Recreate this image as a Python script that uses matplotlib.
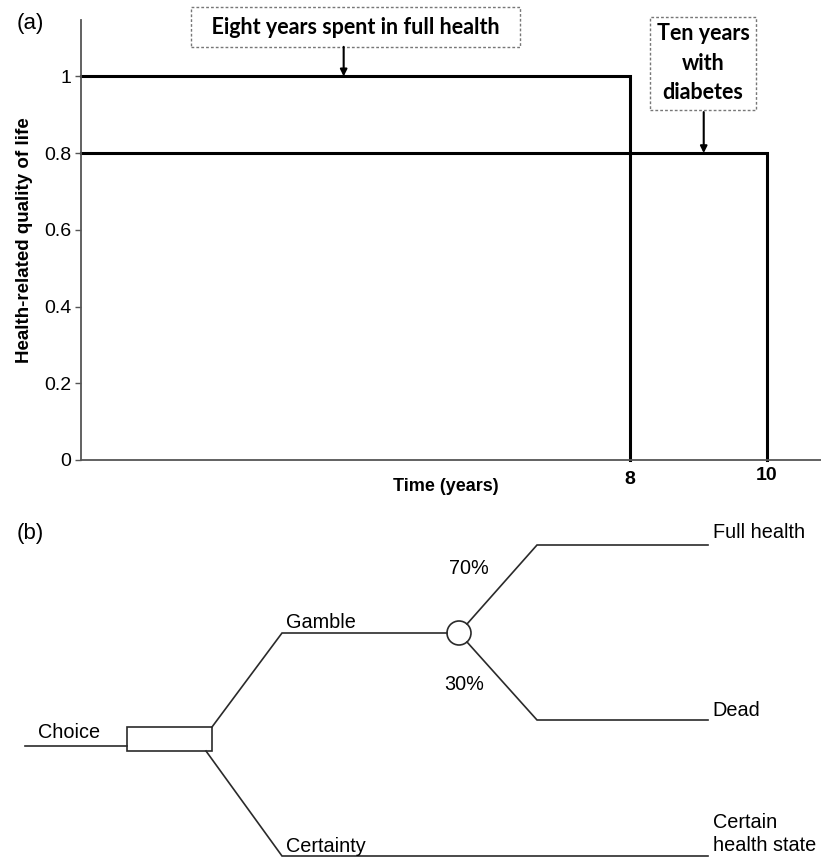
import matplotlib
matplotlib.use("Agg")
import matplotlib.pyplot as plt
from matplotlib.patches import Rectangle, Circle
from matplotlib.transforms import ScaledTranslation

plt.rcParams['font.family'] = ['Liberation Sans', 'DejaVu Sans']

# panel (a) data
years = [8, 10]
quality = [1.0, 0.8]
yticks = [0, 0.2, 0.4, 0.6, 0.8, 1.0]
ytick_labels = ['0', '0.2', '0.4', '0.6', '0.8', '1']
box_texts = ['  Eight years spent in full health  ', 'Ten years\nwith\ndiabetes']
arrow_x = [3.83, 9.08]

# panel (b) labels
choice_labels = ['Gamble', 'Certainty']
chance_probs = ['70%', '30%']
outcomes = ['Full health', 'Dead', 'Certain\nhealth state']

fig = plt.figure(figsize=(8.21, 8.59), dpi=100)

# ---- panel (a)
ax = fig.add_axes([81/821, 1 - 460/859, 740/821, 440/859])
for yr, q in zip(years, quality):
    ax.plot([0, yr, yr], [q, q, 0], color='black', lw=2.2, clip_on=False,
            solid_joinstyle='miter')
ax.set_xlim(0, 10.79)
ax.set_ylim(0, 1.147)
for s in ['top', 'right']:
    ax.spines[s].set_visible(False)
for s in ['left', 'bottom']:
    ax.spines[s].set_color('#555555')
    ax.spines[s].set_linewidth(1.3)

ax.set_yticks(yticks)
ax.set_yticklabels(ytick_labels, fontsize=14)
ax.tick_params(axis='y', direction='out', length=4, width=1, color='#555555', pad=3)
ax.set_xticks(years)
ax.set_xticklabels([str(y) for y in years], fontsize=14, fontweight='bold')
ax.tick_params(axis='x', length=0, pad=8)
# the "10" sits a little higher in the original
lbl = ax.get_xticklabels()[1]
lbl.set_transform(lbl.get_transform() + ScaledTranslation(0, 0.04, fig.dpi_scale_trans))

ax.set_ylabel('Health-related quality of life', fontsize=13.5, fontweight='bold', labelpad=8)
ax.set_xlabel('Time (years)', fontsize=13, fontweight='bold', va='top')
ax.xaxis.set_label_coords(0.493, -0.04)

box_style = dict(boxstyle='square,pad=0.45', fc='white', ec='#777777', ls=(0, (2, 1.5)), lw=1)
ax.text(4.0, 1.128, box_texts[0], ha='center', va='center', fontsize=15.5,
        fontweight='bold', family='Lato', bbox=box_style, clip_on=False)
ax.text(9.07, 1.034, box_texts[1], ha='center', va='center', fontsize=15.5,
        fontweight='bold', family='Lato', linespacing=1.5,
        bbox=dict(box_style, boxstyle='square,pad=0.3'), clip_on=False)

arrow = dict(arrowstyle='-|>', lw=1.5, color='black', mutation_scale=10, shrinkA=0, shrinkB=0)
ax.annotate('', xy=(arrow_x[0], quality[0]), xytext=(arrow_x[0], 1.077), arrowprops=arrow,
            annotation_clip=False)
ax.annotate('', xy=(arrow_x[1], quality[1]), xytext=(arrow_x[1], 0.907), arrowprops=arrow,
            annotation_clip=False)

# ---- panel (b): decision tree drawn in pixel coordinates
bx = fig.add_axes([0, 0, 1, 1])
bx.set_xlim(0, 821)
bx.set_ylim(859, 0)
bx.axis('off')
bx.patch.set_alpha(0)

lc = '#2a2a2a'
lw = 1.2
segments = [
    ([25, 127], [746, 746]),            # choice stem
    ([212, 282, 447], [727, 633, 633]),  # gamble
    ([206, 282, 708], [751, 856, 856]),  # certainty
    ([467, 537, 708], [624, 545, 545]),  # full health
    ([467, 537, 708], [642, 720, 720]),  # dead
]
for xs, ys in segments:
    bx.plot(xs, ys, color=lc, lw=lw, solid_joinstyle='miter')
bx.add_patch(Rectangle((127, 727), 85, 24, fc='white', ec=lc, lw=lw))
bx.add_patch(Circle((459, 633), 12, fc='white', ec=lc, lw=lw))

fs = 14.3
bx.text(38, 733, 'Choice', fontsize=fs, va='center')
bx.text(286, 622, choice_labels[0], fontsize=fs, va='center')
bx.text(286, 846, choice_labels[1], fontsize=fs, va='center')
bx.text(449, 569, chance_probs[0], fontsize=fs, va='center')
bx.text(444, 685, chance_probs[1], fontsize=fs, va='center')
bx.text(713, 533, outcomes[0], fontsize=fs, va='center')
bx.text(712, 710, outcomes[1], fontsize=fs, va='center')
bx.text(713, 834, outcomes[2], fontsize=fs, va='center', linespacing=1.3)

bx.text(17, 23, '(a)', fontsize=16, va='center')
bx.text(17, 533, '(b)', fontsize=16, va='center')

fig.savefig('out.png', dpi=100)
